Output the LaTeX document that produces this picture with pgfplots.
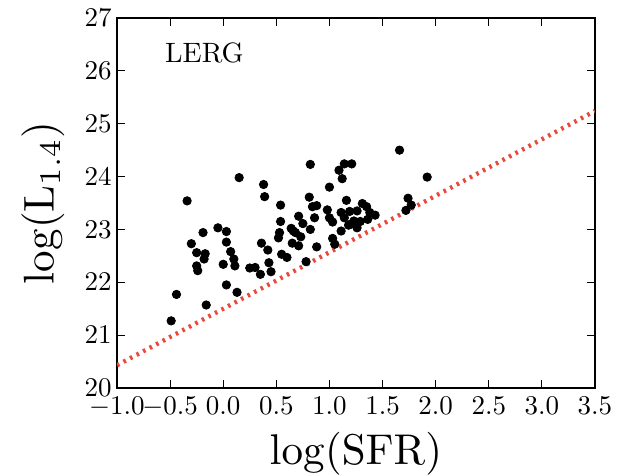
\documentclass[border=0pt]{standalone}
\usepackage{graphicx}
\usepackage{pgfplots}
\pgfplotsset{compat=1.18}
\definecolor{redline}{RGB}{235,72,60}
\begin{document}
\begin{tikzpicture}
\useasboundingbox (-58.5pt,-44pt) rectangle (250.5pt,194pt);
\begin{axis}[
 at={(0,0)}, anchor=south west,
 scale only axis, width=239pt, height=185pt,
 xmin=-1, xmax=3.5, ymin=20, ymax=27,
 xtick={-1,-0.5,0,0.5,1,1.5,2,2.5,3,3.5}, ytick={20,21,22,23,24,25,26,27},
 xticklabel={\scalebox{1.35}{$\pgfmathprintnumber[fixed,fixed zerofill,precision=1]{\tick}$}},
 yticklabel={\scalebox{1.35}{$\pgfmathprintnumber{\tick}$}},
 xticklabel style={yshift=-1.2pt},
 yticklabel style={xshift=0.8pt},
 tick label style={font=\normalsize},
 major tick length=4pt,
 tick style={black, line width=0.6pt},
 axis line style={line width=0.6pt},
 xlabel={\scalebox{2.15}{$\log(\mathrm{SFR})$}},
 ylabel={\scalebox{2.15}{$\log(\mathrm{L}_{1.4})$}},
 label style={font=\normalsize},
 xlabel style={at={(axis description cs:0.5,-0.178)}, anchor=center},
 ylabel style={at={(axis description cs:-0.155,0.5)}, anchor=center},
 clip=true,
]
\addplot[redline, line width=2.2pt, dash pattern=on 1.3pt off 2.4pt] coordinates {(-1,20.43) (3.5,25.24)};
\addplot[only marks, mark=*, mark size=2.1pt, black] coordinates {
(-0.49,21.27) (-0.44,21.77) (-0.34,23.54) (-0.30,22.73) (-0.25,22.56)
(-0.25,22.31) (-0.24,22.22) (-0.19,22.94) (-0.18,22.44) (-0.17,22.54)
(-0.16,21.57) (-0.05,23.03) (0.00,22.34) (0.03,21.95) (0.03,22.96)
(0.03,22.76) (0.07,22.58) (0.10,22.44) (0.11,22.31) (0.13,21.81)
(0.15,23.98) (0.25,22.27) (0.30,22.28) (0.35,22.15) (0.36,22.74)
(0.38,23.85) (0.39,23.62) (0.42,22.61) (0.43,22.37) (0.45,22.20)
(0.54,23.46) (0.54,23.15) (0.53,22.94) (0.52,22.84) (0.55,22.53)
(0.60,22.47) (0.64,23.02) (0.66,22.97) (0.65,22.74) (0.68,22.94)
(0.71,23.25) (0.71,22.69) (0.73,22.86) (0.75,23.11) (0.78,22.39)
(0.81,23.61) (0.82,23.00) (0.82,24.23) (0.84,23.43) (0.86,23.22)
(0.88,23.45) (0.88,22.67) (1.00,23.80) (0.98,23.37) (1.00,23.22)
(1.03,23.14) (1.03,22.83) (1.05,22.72) (1.09,24.12) (1.11,22.97)
(1.12,23.96) (1.11,23.32) (1.14,24.24) (1.16,23.55) (1.14,23.22)
(1.18,23.08) (1.21,24.24) (1.19,23.34) (1.23,23.16) (1.26,23.35)
(1.26,23.03) (1.29,23.15) (1.31,23.49) (1.35,23.43) (1.36,23.19)
(1.38,23.32) (1.43,23.27) (1.66,24.50) (1.72,23.36) (1.74,23.59)
(1.77,23.46) (1.92,23.99) (1.20,23.10) (1.25,23.12)
};
\node[anchor=west, inner sep=0pt] at (axis cs:-0.55,26.34) {\scalebox{1.4}{LERG}};
\end{axis}
\end{tikzpicture}
\end{document}
